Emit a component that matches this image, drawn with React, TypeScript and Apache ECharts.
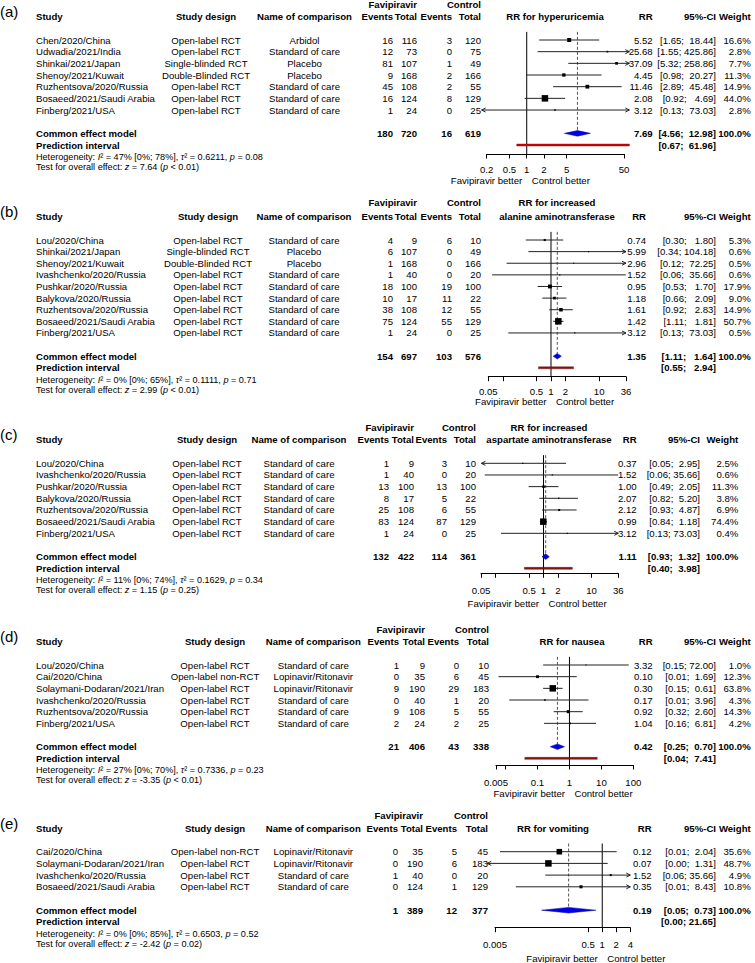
import React, { useEffect, useRef } from "react";
import * as echarts from "echarts";

// ---------------- Panel (a): hyperuricemia ----------------
const studyA = ["Chen/2020/China", "Udwadia/2021/India", "Shinkai/2021/Japan", "Shenoy/2021/Kuwait", "Ruzhentsova/2020/Russia", "Bosaeed/2021/Saudi Arabia", "Finberg/2021/USA"];
const designA = ["Open-label RCT", "Open-label RCT", "Single-blinded RCT", "Double-Blinded RCT", "Open-label RCT", "Open-label RCT", "Open-label RCT"];
const comparisonA = ["Arbidol", "Standard of care", "Placebo", "Placebo", "Standard of care", "Standard of care", "Standard of care"];
const faviEventsA = [16, 12, 81, 9, 45, 16, 1];
const faviTotalA = [116, 73, 107, 168, 108, 124, 24];
const ctrlEventsA = [3, 0, 1, 2, 2, 8, 0];
const ctrlTotalA = [120, 75, 49, 166, 55, 129, 25];
const rrA = [5.52, 25.68, 37.09, 4.45, 11.46, 2.08, 3.12];
const lowerA = [1.65, 1.55, 5.32, 0.98, 2.89, 0.92, 0.13];
const upperA = [18.44, 425.86, 258.86, 20.27, 45.48, 4.69, 73.03];
const weightA = [16.6, 2.8, 7.7, 11.3, 14.9, 44.0, 2.8];
const pooledA = [7.69, 4.56, 12.98];
const totalsA = [180, 720, 16, 619];
const predictionA = [0.67, 61.96];
const hetA = ["47% [0%; 78%]", "0.6211", "= 0.08"];
const testA = ["7.64", "< 0.01"];
const ticksA = [0.2, 0.5, 1, 2, 5, 50];
const tickLabelsA = ["0.2", "0.5", "1", "2", "5", "50"];

// ---------------- Panel (b): alanine aminotransferase ----------------
const studyB = ["Lou/2020/China", "Shinkai/2021/Japan", "Shenoy/2021/Kuwait", "Ivashchenko/2020/Russia", "Pushkar/2020/Russia", "Balykova/2020/Russia", "Ruzhentsova/2020/Russia", "Bosaeed/2021/Saudi Arabia", "Finberg/2021/USA"];
const designB = ["Open-label RCT", "Single-blinded RCT", "Double-Blinded RCT", "Open-label RCT", "Open-label RCT", "Open-label RCT", "Open-label RCT", "Open-label RCT", "Open-label RCT"];
const comparisonB = ["Standard of care", "Placebo", "Placebo", "Standard of care", "Standard of care", "Standard of care", "Standard of care", "Standard of care", "Standard of care"];
const faviEventsB = [4, 6, 1, 1, 18, 10, 38, 75, 1];
const faviTotalB = [9, 107, 168, 40, 100, 17, 108, 124, 24];
const ctrlEventsB = [6, 0, 0, 0, 19, 11, 12, 55, 0];
const ctrlTotalB = [10, 49, 166, 20, 100, 22, 55, 129, 25];
const rrB = [0.74, 5.99, 2.96, 1.52, 0.95, 1.18, 1.61, 1.42, 3.12];
const lowerB = [0.30, 0.34, 0.12, 0.06, 0.53, 0.66, 0.92, 1.11, 0.13];
const upperB = [1.80, 104.18, 72.25, 35.66, 1.70, 2.09, 2.83, 1.81, 73.03];
const weightB = [5.3, 0.6, 0.5, 0.6, 17.9, 9.0, 14.9, 50.7, 0.5];
const pooledB = [1.35, 1.11, 1.64];
const totalsB = [154, 697, 103, 576];
const predictionB = [0.55, 2.94];
const hetB = ["0% [0%; 65%]", "0.1111", "= 0.71"];
const testB = ["2.99", "< 0.01"];
const ticksB = [0.05, 0.1, 0.5, 1, 2, 10, 36];
const tickLabelsB = ["0.05", "", "0.5", "1", "2", "10", "36"];

// ---------------- Panel (c): aspartate aminotransferase ----------------
const studyC = ["Lou/2020/China", "Ivashchenko/2020/Russia", "Pushkar/2020/Russia", "Balykova/2020/Russia", "Ruzhentsova/2020/Russia", "Bosaeed/2021/Saudi Arabia", "Finberg/2021/USA"];
const designC = ["Open-label RCT", "Open-label RCT", "Open-label RCT", "Open-label RCT", "Open-label RCT", "Open-label RCT", "Open-label RCT"];
const comparisonC = ["Standard of care", "Standard of care", "Standard of care", "Standard of care", "Standard of care", "Standard of care", "Standard of care"];
const faviEventsC = [1, 1, 13, 8, 25, 83, 1];
const faviTotalC = [9, 40, 100, 17, 108, 124, 24];
const ctrlEventsC = [3, 0, 13, 5, 6, 87, 0];
const ctrlTotalC = [10, 20, 100, 22, 55, 129, 25];
const rrC = [0.37, 1.52, 1.00, 2.07, 2.12, 0.99, 3.12];
const lowerC = [0.05, 0.06, 0.49, 0.82, 0.93, 0.84, 0.13];
const upperC = [2.95, 35.66, 2.05, 5.20, 4.87, 1.18, 73.03];
const weightC = [2.5, 0.6, 11.3, 3.8, 6.9, 74.4, 0.4];
const pooledC = [1.11, 0.93, 1.32];
const totalsC = [132, 422, 114, 361];
const predictionC = [0.40, 3.98];
const hetC = ["11% [0%; 74%]", "0.1629", "= 0.34"];
const testC = ["1.15", "= 0.25"];
const ticksC = [0.05, 0.1, 0.5, 1, 2, 10, 36];
const tickLabelsC = ["0.05", "", "0.5", "1", "2", "10", "36"];

// ---------------- Panel (d): nausea ----------------
const studyD = ["Lou/2020/China", "Cai/2020/China", "Solaymani-Dodaran/2021/Iran", "Ivashchenko/2020/Russia", "Ruzhentsova/2020/Russia", "Finberg/2021/USA"];
const designD = ["Open-label RCT", "Open-label non-RCT", "Open-label RCT", "Open-label RCT", "Open-label RCT", "Open-label RCT"];
const comparisonD = ["Standard of care", "Lopinavir/Ritonavir", "Lopinavir/Ritonavir", "Standard of care", "Standard of care", "Standard of care"];
const faviEventsD = [1, 0, 9, 0, 9, 2];
const faviTotalD = [9, 35, 190, 40, 108, 24];
const ctrlEventsD = [0, 6, 29, 1, 5, 2];
const ctrlTotalD = [10, 45, 183, 20, 55, 25];
const rrD = [3.32, 0.10, 0.30, 0.17, 0.92, 1.04];
const lowerD = [0.15, 0.006, 0.15, 0.013, 0.32, 0.16];
const upperD = [72.00, 1.69, 0.61, 3.96, 2.60, 6.81];
const weightD = [1.0, 12.3, 63.8, 4.3, 14.3, 4.2];
const pooledD = [0.42, 0.25, 0.70];
const totalsD = [21, 406, 43, 338];
const predictionD = [0.04, 7.41];
const hetD = ["27% [0%; 70%]", "0.7336", "= 0.23"];
const testD = ["-3.35", "< 0.01"];
const ticksD = [0.005, 0.01, 0.1, 1, 10, 100];
const tickLabelsD = ["0.005", "", "0.1", "1", "10", "100"];

// ---------------- Panel (e): vomiting ----------------
const studyE = ["Cai/2020/China", "Solaymani-Dodaran/2021/Iran", "Ivashchenko/2020/Russia", "Bosaeed/2021/Saudi Arabia"];
const designE = ["Open-label non-RCT", "Open-label RCT", "Open-label RCT", "Open-label RCT"];
const comparisonE = ["Lopinavir/Ritonavir", "Lopinavir/Ritonavir", "Standard of care", "Standard of care"];
const faviEventsE = [0, 0, 1, 0];
const faviTotalE = [35, 190, 40, 124];
const ctrlEventsE = [5, 6, 0, 1];
const ctrlTotalE = [45, 183, 20, 129];
const rrE = [0.12, 0.07, 1.52, 0.35];
const lowerE = [0.0064, 0.002, 0.06, 0.014];
const upperE = [2.04, 1.31, 35.66, 8.43];
const weightE = [35.6, 48.7, 4.9, 10.8];
const pooledE = [0.19, 0.05, 0.73];
const totalsE = [1, 389, 12, 377];
const predictionE = [0.001, 21.65];
const hetE = ["0% [0%; 85%]", "0.6503", "= 0.52"];
const testE = ["-2.42", "= 0.02"];
const ticksE = [0.005, 0.5, 1, 2, 4];
const tickLabelsE = ["0.005", "0.5", "1", "2", "4"];

// ---------------- styling / layout ----------------
const FONT = "'Liberation Sans', Arial, Helvetica, sans-serif";
const FS = 9.6;
const SMALL = 9.1;
const NB = "\u00A0";
const lg = Math.log10;

const panels = [
  {
    tag: "(a)", title: ["RR for hyperuricemia"],
    study: studyA, design: designA, comparison: comparisonA,
    fe: faviEventsA, ft: faviTotalA, ce: ctrlEventsA, ct: ctrlTotalA,
    rr: rrA, lo: lowerA, hi: upperA, w: weightA, pooled: pooledA, totals: totalsA,
    pred: predictionA, het: hetA, test: testA, ticks: ticksA, tickLabels: tickLabelsA,
    L: { row1: 40, rowH: 11.67, topY: 4, headerY: 16, axisY: 154, labelOff: 16, betterY: 180,
      axisPx: [486.7, 624], xlim: [0.163, 62], predFill: "#e00000",
      cols: { d: 206, c: 304.5, fe: 393, ft: 417, ce: 452, ct: 481, ph: 555, rr: 652.7, ci: 716, w: 750.7 } },
  },
  {
    tag: "(b)", title: ["RR for increased", "alanine aminotransferase"],
    study: studyB, design: designB, comparison: comparisonB,
    fe: faviEventsB, ft: faviTotalB, ce: ctrlEventsB, ct: ctrlTotalB,
    rr: rrB, lo: lowerB, hi: upperB, w: weightB, pooled: pooledB, totals: totalsB,
    pred: predictionB, het: hetB, test: testB, ticks: ticksB, tickLabels: tickLabelsB,
    L: { row1: 240, rowH: 11.62, topY: 202, headerY: 216, axisY: 376.7, labelOff: 15, betterY: 401.7,
      axisPx: [488.3, 626], xlim: [0.05, 36], predFill: "#8b1414",
      cols: { d: 208, c: 304, fe: 393, ft: 417, ce: 452, ct: 481, ph: 557, rr: 646, ci: 716, w: 750.7 } },
  },
  {
    tag: "(c)", title: ["RR for increased", "aspartate aminotransferase"],
    study: studyC, design: designC, comparison: comparisonC,
    fe: faviEventsC, ft: faviTotalC, ce: ctrlEventsC, ct: ctrlTotalC,
    rr: rrC, lo: lowerC, hi: upperC, w: weightC, pooled: pooledC, totals: totalsC,
    pred: predictionC, het: hetC, test: testC, ticks: ticksC, tickLabels: tickLabelsC,
    L: { row1: 463.3, rowH: 11.67, topY: 427, headerY: 439.5, axisY: 573.3, labelOff: 17.7, betterY: 603.3,
      axisPx: [481, 618.3], xlim: [0.051, 36], predFill: "#8b1414",
      cols: { d: 207, c: 299, fe: 389, ft: 414, ce: 447, ct: 476, ph: 549, rr: 636.7, ci: 700, w: 738.3 } },
  },
  {
    tag: "(d)", title: ["RR for nausea"],
    study: studyD, design: designD, comparison: comparisonD,
    fe: faviEventsD, ft: faviTotalD, ce: ctrlEventsD, ct: ctrlTotalD,
    rr: rrD, lo: lowerD, hi: upperD, w: weightD, pooled: pooledD, totals: totalsD,
    pred: predictionD, het: hetD, test: testD, ticks: ticksD, tickLabels: tickLabelsD,
    L: { row1: 665, rowH: 11.67, topY: 629, headerY: 641.5, axisY: 765, labelOff: 17.7, betterY: 793.3,
      axisPx: [496, 633.3], xlim: [0.005, 100], predFill: "#8b1414",
      cols: { d: 215, c: 313.3, fe: 399, ft: 425, ce: 459, ct: 489, ph: 572, rr: 652.7, ci: 716, w: 750.7 } },
  },
  {
    tag: "(e)", title: ["RR for vomiting"],
    study: studyE, design: designE, comparison: comparisonE,
    fe: faviEventsE, ft: faviTotalE, ce: ctrlEventsE, ct: ctrlTotalE,
    rr: rrE, lo: lowerE, hi: upperE, w: weightE, pooled: pooledE, totals: totalsE,
    pred: predictionE, het: hetE, test: testE, ticks: ticksE, tickLabels: tickLabelsE,
    L: { row1: 851.7, rowH: 11.7, topY: 815, headerY: 828.5, axisY: 927.7, labelOff: 17.3, betterY: 958.3,
      axisPx: [495, 630.3], xlim: [0.0034, 4], predFill: "#8b1414",
      cols: { d: 215, c: 313.3, fe: 398, ft: 423, ce: 457, ct: 488, ph: 553, rr: 651.7, ci: 716, w: 750.7 } },
  },
];

function txt(x: number, y: number, text: string, align = "left", bold = false, size = FS) {
  return {
    type: "text", x, y, silent: true,
    style: {
      text, fill: "#000", fontFamily: FONT, fontSize: size, fontWeight: bold ? "bold" : "normal",
      textAlign: align, align, textVerticalAlign: "middle", verticalAlign: "middle",
    },
  };
}

function richTxt(x: number, y: number, text: string) {
  const base = { fontFamily: FONT, fontSize: SMALL, fill: "#000", color: "#000" };
  return {
    type: "text", x, y, silent: true,
    style: {
      text, ...base, textAlign: "left", align: "left", textVerticalAlign: "middle", verticalAlign: "middle",
      rich: { n: { ...base }, i: { ...base, fontStyle: "italic" } },
    },
  };
}

function ciStrings(pairs: number[][]) {
  const los = pairs.map((p) => p[0].toFixed(2));
  const his = pairs.map((p) => p[1].toFixed(2));
  const wl = Math.max(...los.map((s) => s.length));
  const wh = Math.max(...his.map((s) => s.length));
  return pairs.map((_, i) => "[" + los[i].padStart(wl, NB) + ";" + NB + his[i].padStart(wh, NB) + "]");
}

function buildOption() {
  const grid: any[] = [];
  const xAxis: any[] = [];
  const yAxis: any[] = [];
  const series: any[] = [];
  const graphic: any[] = [];

  panels.forEach((p, k) => {
    const L = p.L;
    const C = L.cols;
    const n = p.study.length;
    const yMin = -0.7;
    const yMax = (L.axisY - L.row1) / L.rowH;
    const rowY = (v: number) => L.row1 + v * L.rowH;
    const t0 = p.ticks[0];
    const t1 = p.ticks[p.ticks.length - 1];

    grid.push({ left: L.axisPx[0], width: L.axisPx[1] - L.axisPx[0], top: rowY(yMin), height: L.axisY - rowY(yMin) });
    const labelTicks = p.ticks.filter((_, i) => p.tickLabels[i] !== "");
    xAxis.push({
      type: "value", gridIndex: k, min: lg(t0), max: lg(t1), position: "bottom",
      axisLine: { show: true, onZero: false, lineStyle: { color: "#000", width: 1 } },
      axisTick: { show: true, length: 4.5, customValues: p.ticks.map(lg), lineStyle: { color: "#000", width: 1 } },
      axisLabel: {
        customValues: labelTicks.map(lg), margin: L.labelOff - 5.3, fontSize: FS, fontFamily: FONT, color: "#000",
        hideOverlap: false,
        formatter: (v: number) => {
          const i = p.ticks.findIndex((t) => Math.abs(lg(t) - v) < 1e-6);
          return i >= 0 ? p.tickLabels[i] : "";
        },
      },
      splitLine: { show: false },
    });
    yAxis.push({ type: "value", gridIndex: k, min: yMin, max: yMax, inverse: true, show: false });

    const wMax = Math.max(...p.w);
    const [xlo, xhi] = L.xlim;

    // reference lines, prediction interval and pooled diamond
    series.push({
      type: "custom", xAxisIndex: k, yAxisIndex: k, clip: false, silent: true, z: 2,
      data: [[n + 1, p.pooled[0], p.pooled[1], p.pooled[2], p.pred[0], p.pred[1]]],
      encode: { x: 1, y: 0 },
      renderItem: (params: any, api: any) => {
        const y = api.value(0);
        const rr = api.value(1), lo = api.value(2), hi = api.value(3), plo = api.value(4), phi = api.value(5);
        const dh = 2.8;
        const top1 = api.coord([lg(1), yMin]);
        const bot1 = api.coord([lg(1), yMax]);
        const c = api.coord([lg(rr), y]);
        const topR = api.coord([lg(rr), yMin]);
        const a = api.coord([lg(lo), y]);
        const b = api.coord([lg(hi), y]);
        const children: any[] = [
          { type: "line", shape: { x1: top1[0], y1: top1[1], x2: bot1[0], y2: bot1[1] }, style: { stroke: "#000", lineWidth: 1 } },
          { type: "line", shape: { x1: topR[0], y1: topR[1], x2: c[0], y2: c[1] - dh }, style: { stroke: "#555", lineWidth: 1, lineDash: [3, 2] } },
          { type: "polygon", shape: { points: [[a[0], c[1]], [c[0], c[1] - dh], [b[0], c[1]], [c[0], c[1] + dh]] }, style: { fill: "#0000ee", stroke: "#00008b", lineWidth: 0.5 } },
        ];
        if (plo >= xlo && phi <= xhi) {
          const pa = api.coord([lg(plo), y + 1]);
          const pb = api.coord([lg(phi), y + 1]);
          children.push({ type: "rect", shape: { x: pa[0], y: pa[1] - 1, width: pb[0] - pa[0], height: 2 }, style: { fill: L.predFill, stroke: "#5a0000", lineWidth: 0.4 } });
        }
        return { type: "group", children };
      },
    });

    // study estimates
    series.push({
      type: "custom", xAxisIndex: k, yAxisIndex: k, clip: false, silent: true, z: 3,
      data: p.rr.map((r, i) => [i, r, p.lo[i], p.hi[i], p.w[i]]),
      encode: { x: 1, y: 0 },
      renderItem: (params: any, api: any) => {
        const y = api.value(0);
        const rr = api.value(1), lo = api.value(2), hi = api.value(3), w = api.value(4);
        const a = api.coord([lg(Math.max(lo, xlo)), y]);
        const b = api.coord([lg(Math.min(hi, xhi)), y]);
        const c = api.coord([lg(rr), y]);
        const s = Math.max(1.2, 6.5 * Math.sqrt(w / wMax));
        const children: any[] = [
          { type: "line", shape: { x1: a[0], y1: a[1], x2: b[0], y2: b[1] }, style: { stroke: "#222", lineWidth: 1 } },
        ];
        if (lo < xlo) children.push({ type: "polyline", shape: { points: [[a[0] + 4, a[1] - 2], [a[0], a[1]], [a[0] + 4, a[1] + 2]] }, style: { stroke: "#222", lineWidth: 1, fill: null } });
        if (hi > xhi) children.push({ type: "polyline", shape: { points: [[b[0] - 4, b[1] - 2], [b[0], b[1]], [b[0] - 4, b[1] + 2]] }, style: { stroke: "#222", lineWidth: 1, fill: null } });
        children.push({ type: "rect", shape: { x: c[0] - s / 2, y: c[1] - s / 2, width: s, height: s }, style: { fill: "#000" } });
        return { type: "group", children };
      },
    });

    // ---------- texts ----------
    graphic.push(txt(0, L.headerY - 5, p.tag, "left", false, 15));
    graphic.push(txt(C.ft, L.topY, "Favipiravir", "right", true));
    graphic.push(txt(C.ct, L.topY, "Control", "right", true));
    if (p.title.length === 2) {
      graphic.push(txt(C.ph, L.topY, p.title[0], "center", true));
      graphic.push(txt(C.ph, L.headerY, p.title[1], "center", true));
    } else {
      graphic.push(txt(C.ph, L.headerY, p.title[0], "center", true));
    }
    const hy = L.headerY;
    graphic.push(txt(36, hy, "Study", "left", true));
    graphic.push(txt(C.d, hy, "Study design", "center", true));
    graphic.push(txt(C.c, hy, "Name of comparison", "center", true));
    graphic.push(txt(C.fe, hy, "Events", "right", true));
    graphic.push(txt(C.ft, hy, "Total", "right", true));
    graphic.push(txt(C.ce, hy, "Events", "right", true));
    graphic.push(txt(C.ct, hy, "Total", "right", true));
    graphic.push(txt(C.rr, hy, "RR", "right", true));
    graphic.push(txt(C.ci, hy, "95%-CI", "right", true));
    graphic.push(txt(C.w, hy, "Weight", "right", true));

    const pairs = p.lo.map((l, i) => [l, p.hi[i]]).concat([[p.pooled[1], p.pooled[2]], [p.pred[0], p.pred[1]]]);
    const cis = ciStrings(pairs);
    p.study.forEach((s, i) => {
      const y = rowY(i);
      graphic.push(txt(36, y, s));
      graphic.push(txt(C.d, y, p.design[i], "center"));
      graphic.push(txt(C.c, y, p.comparison[i], "center"));
      graphic.push(txt(C.fe, y, String(p.fe[i]), "right"));
      graphic.push(txt(C.ft, y, String(p.ft[i]), "right"));
      graphic.push(txt(C.ce, y, String(p.ce[i]), "right"));
      graphic.push(txt(C.ct, y, String(p.ct[i]), "right"));
      graphic.push(txt(C.rr, y, p.rr[i].toFixed(2), "right"));
      graphic.push(txt(C.ci, y, cis[i], "right"));
      graphic.push(txt(C.w, y, p.w[i].toFixed(1) + "%", "right"));
    });
    const yc = rowY(n + 1);
    graphic.push(txt(36, yc, "Common effect model", "left", true));
    graphic.push(txt(C.fe, yc, String(p.totals[0]), "right", true));
    graphic.push(txt(C.ft, yc, String(p.totals[1]), "right", true));
    graphic.push(txt(C.ce, yc, String(p.totals[2]), "right", true));
    graphic.push(txt(C.ct, yc, String(p.totals[3]), "right", true));
    graphic.push(txt(C.rr, yc, p.pooled[0].toFixed(2), "right", true));
    graphic.push(txt(C.ci, yc, cis[n], "right", true));
    graphic.push(txt(C.w, yc, "100.0%", "right", true));
    const yp = rowY(n + 2);
    graphic.push(txt(36, yp, "Prediction interval", "left", true));
    graphic.push(txt(C.ci, yp, cis[n + 1], "right", true));

    const yh = yp + 12;
    graphic.push(richTxt(36, yh, `{n|Heterogeneity: }{i|I}{n|² = ${p.het[0]}, }{i|τ}{n|² = ${p.het[1]}, }{i|p}{n| ${p.het[2]}}`));
    graphic.push(richTxt(36, yh + 10, `{n|Test for overall effect: }{i|z}{n| = ${p.test[0]} (}{i|p}{n| ${p.test[1]})}`));

    const x1 = L.axisPx[0] + ((0 - lg(t0)) / (lg(t1) - lg(t0))) * (L.axisPx[1] - L.axisPx[0]);
    graphic.push(txt(x1 - 4.5, L.betterY, "Favipiravir better", "right"));
    graphic.push(txt(x1 + 5, L.betterY, "Control better", "left"));
  });

  return { animation: false, backgroundColor: "#fff", grid, xAxis, yAxis, series, graphic };
}

export default function App() {
  const ref = useRef<HTMLDivElement>(null);
  useEffect(() => {
    const chart = echarts.init(ref.current as HTMLDivElement, null, { renderer: "svg", width: 755, height: 963 });
    chart.setOption(buildOption() as any);
    return () => chart.dispose();
  }, []);
  return <div ref={ref} style={{ position: "absolute", left: 0, top: 0, width: 755, height: 963, background: "#fff" }} />;
}
